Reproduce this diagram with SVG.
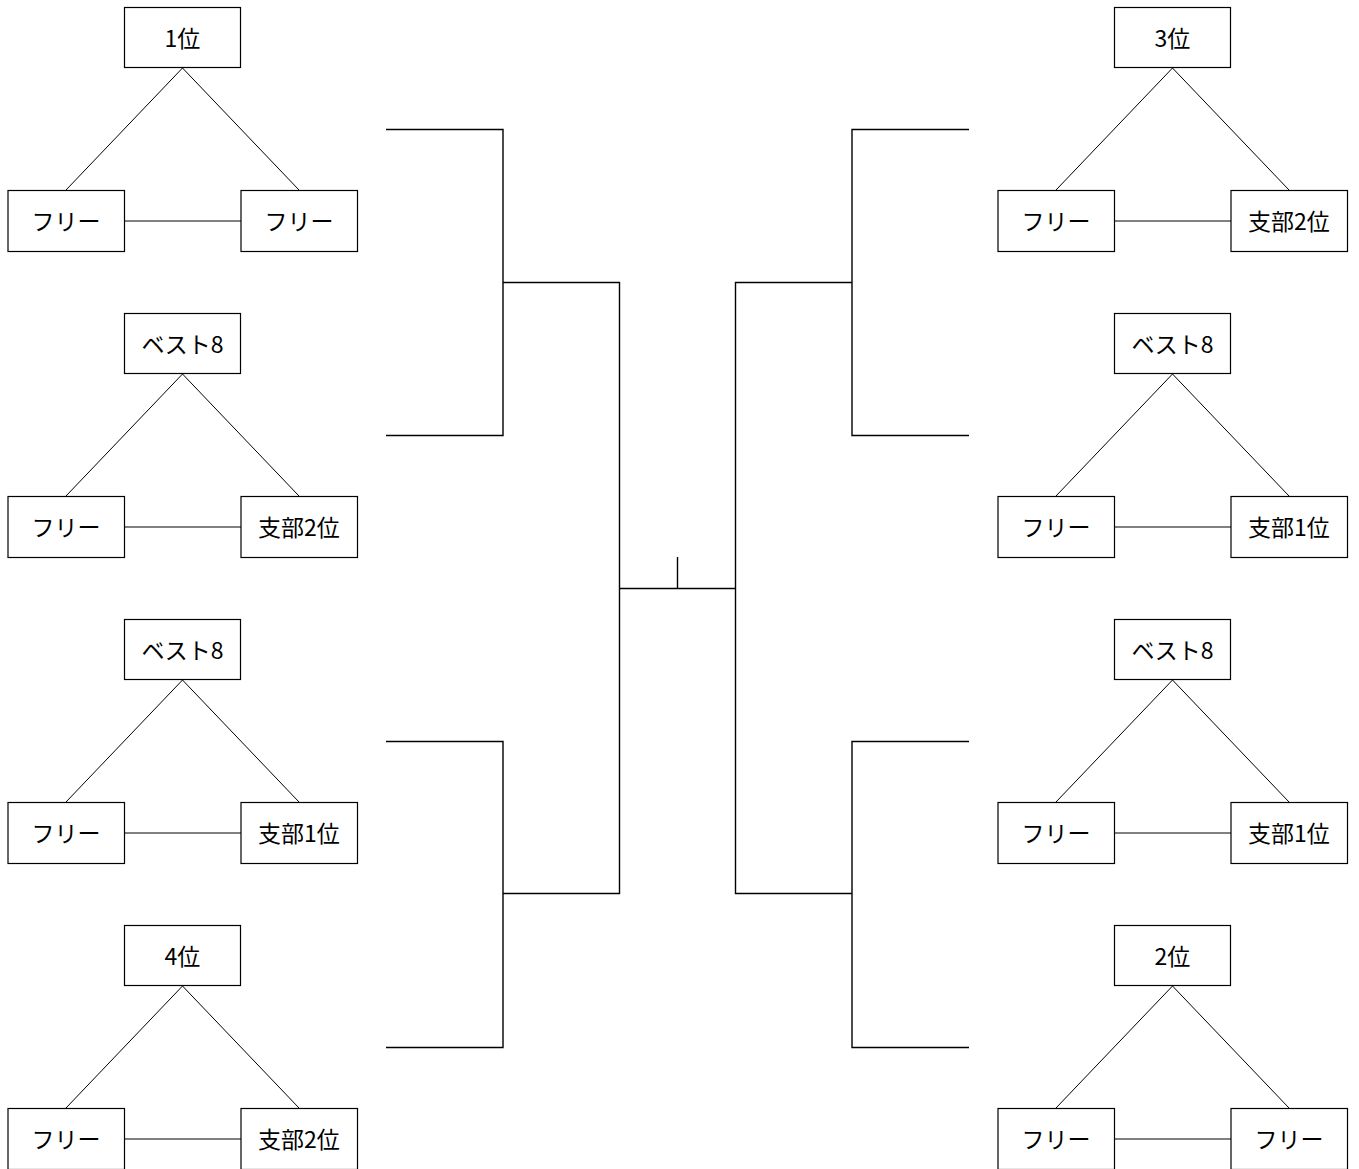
<svg xmlns="http://www.w3.org/2000/svg" width="1359" height="1169" viewBox="0 0 1359 1169">
<style>
.box{fill:#fff;stroke:#000;stroke-width:1.2}
.t{font-family:"Noto Sans CJK JP","Noto Sans CJK KR",sans-serif;font-size:23px;text-anchor:middle;dominant-baseline:central;fill:#000}
.e{stroke:#000;stroke-width:1;fill:none}
.b{stroke:#000;stroke-width:1.4;fill:none}
</style>
<rect width="1359" height="1169" fill="#fff"/>
<defs>
<g id="tri">
<path class="e" d="M182.5,68 L66,190 M182.5,68 L299,190 M124.5,221 L241,221"/>
</g>
</defs>
<g id="connectors">
<use href="#tri"/>
<use href="#tri" y="306"/>
<use href="#tri" y="612"/>
<use href="#tri" y="918"/>
<use href="#tri" x="990"/>
<use href="#tri" x="990" y="306"/>
<use href="#tri" x="990" y="612"/>
<use href="#tri" x="990" y="918"/>
<path class="b" d="M386,129.5 H503 V435.5 H386 M503,282.5 H619.5 V893.5 H503 M386,741.5 H503 V1047.5 H386"/>
<path class="b" d="M969,129.5 H852 V435.5 H969 M852,282.5 H735.5 V893.5 H852 M969,741.5 H852 V1047.5 H969"/>
<path class="b" d="M619.5,588.5 H735.5 M677.5,557 V588.5"/>
</g>
<g id="L1"><rect class="box" x="124.5" y="7.5" width="116" height="60"/><text class="t" x="182.5" y="37">1位</text></g>
<g id="L1a"><rect class="box" x="8" y="190.5" width="116.5" height="61"/><text class="t" x="66" y="220">フリー</text></g>
<g id="L1b"><rect class="box" x="241" y="190.5" width="116.5" height="61"/><text class="t" x="299" y="220">フリー</text></g>
<g id="L2"><rect class="box" x="124.5" y="313.5" width="116" height="60"/><text class="t" x="182.5" y="343">ベスト8</text></g>
<g id="L2a"><rect class="box" x="8" y="496.5" width="116.5" height="61"/><text class="t" x="66" y="526">フリー</text></g>
<g id="L2b"><rect class="box" x="241" y="496.5" width="116.5" height="61"/><text class="t" x="299" y="526">支部2位</text></g>
<g id="L3"><rect class="box" x="124.5" y="619.5" width="116" height="60"/><text class="t" x="182.5" y="649">ベスト8</text></g>
<g id="L3a"><rect class="box" x="8" y="802.5" width="116.5" height="61"/><text class="t" x="66" y="832">フリー</text></g>
<g id="L3b"><rect class="box" x="241" y="802.5" width="116.5" height="61"/><text class="t" x="299" y="832">支部1位</text></g>
<g id="L4"><rect class="box" x="124.5" y="925.5" width="116" height="60"/><text class="t" x="182.5" y="955">4位</text></g>
<g id="L4a"><rect class="box" x="8" y="1108.5" width="116.5" height="61"/><text class="t" x="66" y="1138">フリー</text></g>
<g id="L4b"><rect class="box" x="241" y="1108.5" width="116.5" height="61"/><text class="t" x="299" y="1138">支部2位</text></g>
<g id="R1"><rect class="box" x="1114.5" y="7.5" width="116" height="60"/><text class="t" x="1172.5" y="37">3位</text></g>
<g id="R1a"><rect class="box" x="998" y="190.5" width="116.5" height="61"/><text class="t" x="1056" y="220">フリー</text></g>
<g id="R1b"><rect class="box" x="1231" y="190.5" width="116.5" height="61"/><text class="t" x="1289" y="220">支部2位</text></g>
<g id="R2"><rect class="box" x="1114.5" y="313.5" width="116" height="60"/><text class="t" x="1172.5" y="343">ベスト8</text></g>
<g id="R2a"><rect class="box" x="998" y="496.5" width="116.5" height="61"/><text class="t" x="1056" y="526">フリー</text></g>
<g id="R2b"><rect class="box" x="1231" y="496.5" width="116.5" height="61"/><text class="t" x="1289" y="526">支部1位</text></g>
<g id="R3"><rect class="box" x="1114.5" y="619.5" width="116" height="60"/><text class="t" x="1172.5" y="649">ベスト8</text></g>
<g id="R3a"><rect class="box" x="998" y="802.5" width="116.5" height="61"/><text class="t" x="1056" y="832">フリー</text></g>
<g id="R3b"><rect class="box" x="1231" y="802.5" width="116.5" height="61"/><text class="t" x="1289" y="832">支部1位</text></g>
<g id="R4"><rect class="box" x="1114.5" y="925.5" width="116" height="60"/><text class="t" x="1172.5" y="955">2位</text></g>
<g id="R4a"><rect class="box" x="998" y="1108.5" width="116.5" height="61"/><text class="t" x="1056" y="1138">フリー</text></g>
<g id="R4b"><rect class="box" x="1231" y="1108.5" width="116.5" height="61"/><text class="t" x="1289" y="1138">フリー</text></g>
</svg>
